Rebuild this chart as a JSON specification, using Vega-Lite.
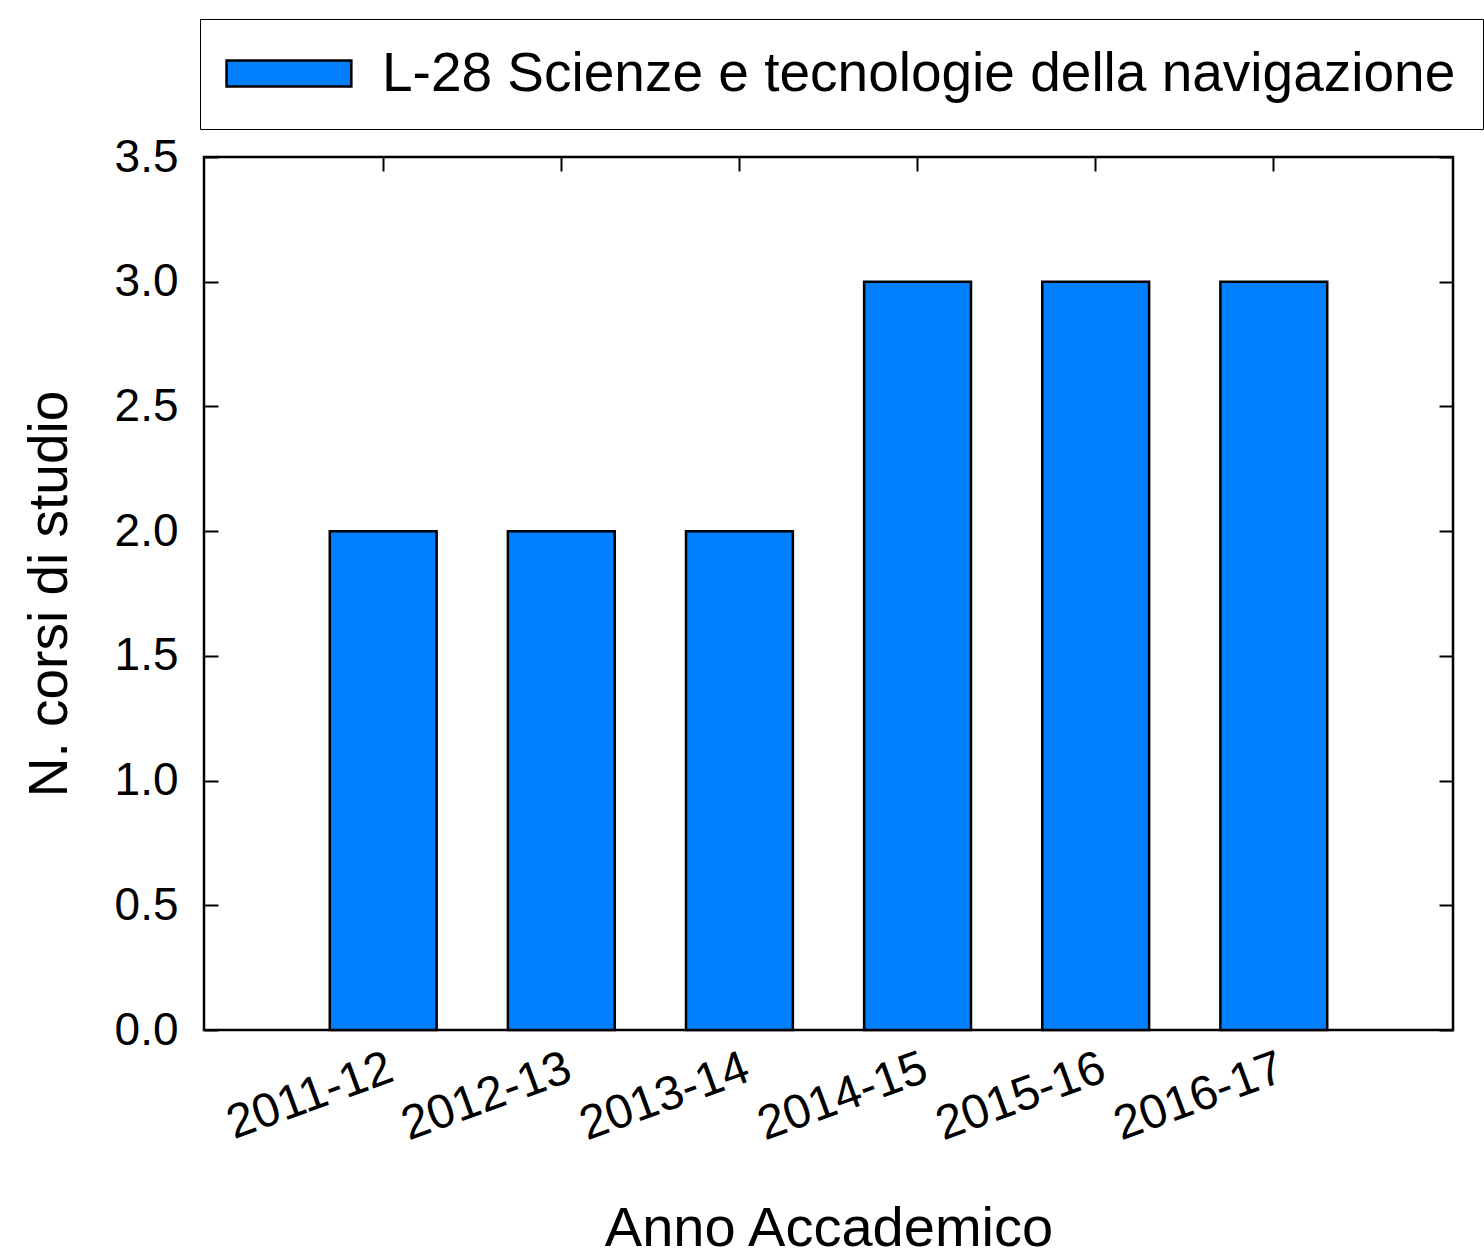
{
  "$schema": "https://vega.github.io/schema/vega-lite/v6.json",
  "width": 1249,
  "height": 873,
  "autosize": {"type": "none"},
  "padding": {"left": 204, "top": 157, "right": 31, "bottom": 229},
  "background": "white",
  "config": {
    "font": "Liberation Sans",
    "view": {"stroke": "black", "strokeWidth": 2.5},
    "axis": {"labelColor": "black", "titleColor": "black", "tickColor": "black", "tickWidth": 2, "labelFont": "Liberation Sans", "titleFont": "Liberation Sans", "titleFontWeight": "normal"},
    "legend": {"strokeColor": "black", "padding": 27}
  },
  "data": {
    "values": [
      {"anno": "2011-12", "n": 2, "serie": "L-28 Scienze e tecnologie della navigazione"},
      {"anno": "2012-13", "n": 2, "serie": "L-28 Scienze e tecnologie della navigazione"},
      {"anno": "2013-14", "n": 2, "serie": "L-28 Scienze e tecnologie della navigazione"},
      {"anno": "2014-15", "n": 3, "serie": "L-28 Scienze e tecnologie della navigazione"},
      {"anno": "2015-16", "n": 3, "serie": "L-28 Scienze e tecnologie della navigazione"},
      {"anno": "2016-17", "n": 3, "serie": "L-28 Scienze e tecnologie della navigazione"}
    ]
  },
  "layer": [
    {
      "mark": {"type": "bar", "stroke": "black", "strokeWidth": 2.5},
      "encoding": {
        "x": {
          "field": "anno", "type": "nominal", "sort": null,
          "scale": {"paddingInner": 0.4, "paddingOuter": 0.706},
          "axis": {
            "orient": "bottom", "title": "Anno Accademico", "titleFontSize": 56, "titlePadding": 52,
            "labelFontSize": 48, "labelAngle": -20, "labelAlign": "right", "labelBaseline": "top",
            "tickSize": -14, "labelPadding": 28, "domain": false
          }
        },
        "y": {
          "field": "n", "type": "quantitative",
          "scale": {"domain": [0, 3.5], "nice": false},
          "axis": {
            "orient": "left", "title": "N. corsi di studio", "titleFontSize": 55, "titlePadding": 36,
            "values": [0, 0.5, 1, 1.5, 2, 2.5, 3, 3.5], "format": ".1f",
            "labelFontSize": 46, "tickSize": -14, "labelPadding": 40, "domain": false, "grid": false
          }
        },
        "fill": {
          "field": "serie", "type": "nominal",
          "scale": {"range": ["#0080ff"]},
          "legend": {
            "title": null, "orient": "none", "legendX": -4, "legendY": -138,
            "symbolType": "M-2.15,-1H7.45V1H-2.15Z", "symbolSize": 676,
            "symbolStrokeColor": "black", "symbolStrokeWidth": 2.5,
            "labelFontSize": 55, "labelFont": "Liberation Sans", "labelColor": "black",
            "labelOffset": 100, "labelLimit": 2000
          }
        }
      }
    },
    {
      "mark": {"type": "bar", "opacity": 0},
      "encoding": {
        "x": {
          "field": "anno", "type": "nominal", "sort": null,
          "axis": {"orient": "top", "title": null, "labels": false, "domain": false, "tickSize": -14}
        },
        "y": {
          "field": "n", "type": "quantitative",
          "axis": {"orient": "right", "title": null, "labels": false, "domain": false, "grid": false, "tickSize": -14, "values": [0, 0.5, 1, 1.5, 2, 2.5, 3, 3.5]}
        }
      }
    }
  ],
  "resolve": {"axis": {"x": "independent", "y": "independent"}}
}
